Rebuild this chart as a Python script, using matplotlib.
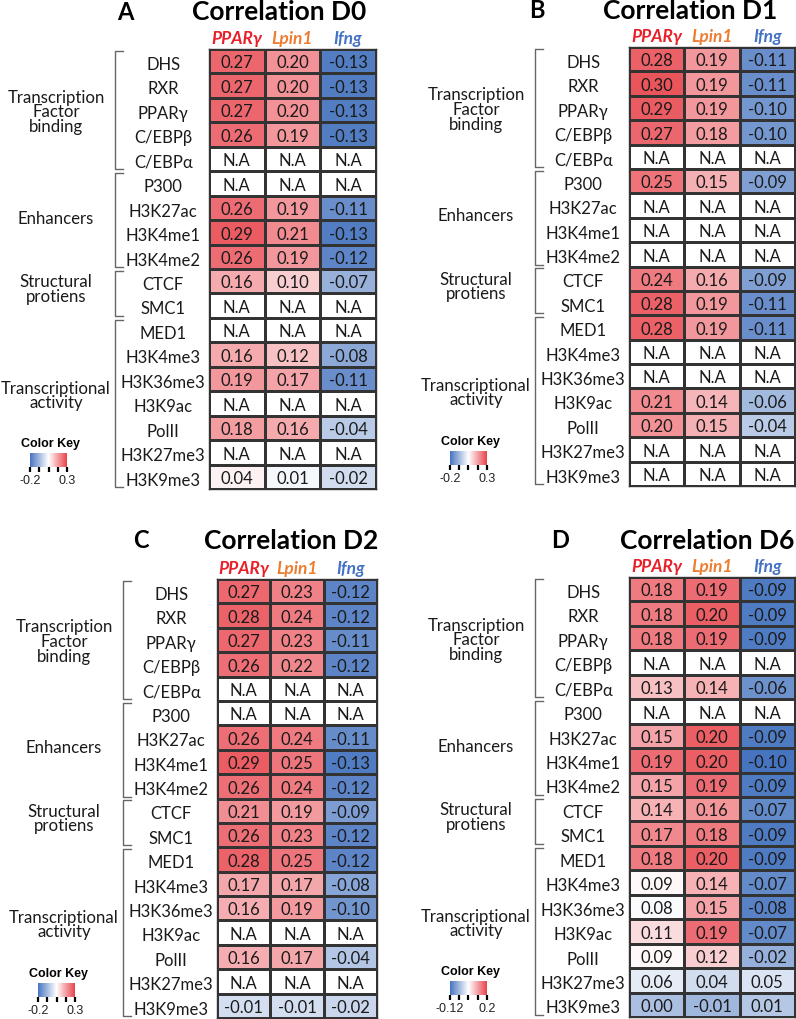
import numpy as np
import matplotlib
matplotlib.use('Agg')
import matplotlib.pyplot as plt
from matplotlib import transforms
from matplotlib.colors import LinearSegmentedColormap, TwoSlopeNorm, Normalize
from matplotlib.cm import ScalarMappable

plt.rcParams['font.family'] = ['Lato', 'DejaVu Sans']

# data
na = np.nan
rows = ['DHS', 'RXR', 'PPARγ', 'C/EBPβ', 'C/EBPα', 'P300', 'H3K27ac', 'H3K4me1', 'H3K4me2',
        'CTCF', 'SMC1', 'MED1', 'H3K4me3', 'H3K36me3', 'H3K9ac', 'PolII', 'H3K27me3', 'H3K9me3']
genes = ['PPARγ', 'Lpin1', 'Ifng']

d0_ppar = [0.27, 0.27, 0.27, 0.26, na, na, 0.26, 0.29, 0.26, 0.16, na, na, 0.16, 0.19, na, 0.18, na, 0.04]
d0_lpin = [0.20, 0.20, 0.20, 0.19, na, na, 0.19, 0.21, 0.19, 0.10, na, na, 0.12, 0.17, na, 0.16, na, 0.01]
d0_ifng = [-0.13, -0.13, -0.13, -0.13, na, na, -0.11, -0.13, -0.12, -0.07, na, na, -0.08, -0.11, na, -0.04, na, -0.02]

d1_ppar = [0.28, 0.30, 0.29, 0.27, na, 0.25, na, na, na, 0.24, 0.28, 0.28, na, na, 0.21, 0.20, na, na]
d1_lpin = [0.19, 0.19, 0.19, 0.18, na, 0.15, na, na, na, 0.16, 0.19, 0.19, na, na, 0.14, 0.15, na, na]
d1_ifng = [-0.11, -0.11, -0.10, -0.10, na, -0.09, na, na, na, -0.09, -0.11, -0.11, na, na, -0.06, -0.04, na, na]

d2_ppar = [0.27, 0.28, 0.27, 0.26, na, na, 0.26, 0.29, 0.26, 0.21, 0.26, 0.28, 0.17, 0.16, na, 0.16, na, -0.01]
d2_lpin = [0.23, 0.24, 0.23, 0.22, na, na, 0.24, 0.25, 0.24, 0.19, 0.23, 0.25, 0.17, 0.19, na, 0.17, na, -0.01]
d2_ifng = [-0.12, -0.12, -0.11, -0.12, na, na, -0.11, -0.13, -0.12, -0.09, -0.12, -0.12, -0.08, -0.10, na, -0.04, na, -0.02]

d6_ppar = [0.18, 0.18, 0.18, na, 0.13, na, 0.15, 0.19, 0.15, 0.14, 0.17, 0.18, 0.09, 0.08, 0.11, 0.09, 0.06, 0.00]
d6_lpin = [0.19, 0.20, 0.19, na, 0.14, na, 0.20, 0.20, 0.19, 0.16, 0.18, 0.20, 0.14, 0.15, 0.19, 0.12, 0.04, -0.01]
d6_ifng = [-0.09, -0.09, -0.09, na, -0.06, na, -0.09, -0.10, -0.09, -0.07, -0.09, -0.09, -0.07, -0.08, -0.07, -0.02, 0.05, 0.01]

panel_letters = ['A', 'B', 'C', 'D']
panel_titles = ['Correlation D0', 'Correlation D1', 'Correlation D2', 'Correlation D6']
panel_data = [(d0_ppar, d0_lpin, d0_ifng), (d1_ppar, d1_lpin, d1_ifng),
              (d2_ppar, d2_lpin, d2_ifng), (d6_ppar, d6_lpin, d6_ifng)]
key_range = [(-0.2, 0.3), (-0.2, 0.3), (-0.2, 0.3), (-0.12, 0.2)]
key_labels = [('-0.2', '0.3'), ('-0.2', '0.3'), ('-0.2', '0.3'), ('-0.12', '0.2')]

group_labels = ['Transcription\nFactor\nbinding', 'Enhancers', 'Structural\nprotiens', 'Transcriptional\nactivity']
group_rows = [(0, 4), (5, 8), (9, 10), (11, 17)]
group_label_y = [2.55, 6.9, 9.8, 14.15]

# colour scaling per panel (vmin, centre, vmax)
norms = [(-0.14, 0.02, 0.33), (-0.14, 0.02, 0.33), (-0.14, 0.03, 0.33), (-0.10, 0.085, 0.22)]
gene_colors = ['#e8202a', '#ed7d31', '#4472c4']

cmap = LinearSegmentedColormap.from_list('key', ['#4674bf', '#ffffff', '#e8434b'])
cmap.set_bad('white')

W, H = 796, 1020
# grid boxes in pixels: left, top, right, bottom
boxes = [(209, 50, 376, 490), (629, 48, 795, 487), (217, 580, 377, 1019), (629, 578, 795, 1018)]
letter_pos = [(125, 12), (537, 11), (141, 541), (560, 541)]
title_pos = [(279, 12), (690, 11), (291, 541), (707, 541)]

fig = plt.figure(figsize=(W / 100, H / 100), dpi=100)

for k in range(4):
    l, t, r, b = boxes[k]
    aw = r - l
    ax = fig.add_axes([l / W, 1 - b / H, aw / W, (b - t) / H])
    vals = np.array(panel_data[k]).T
    vmin, vc, vmax = norms[k]
    norm = TwoSlopeNorm(vcenter=vc, vmin=vmin, vmax=vmax)
    ax.pcolormesh(np.ma.masked_invalid(vals), cmap=cmap, norm=norm,
                  edgecolors='#333333', linewidth=1.0)
    ax.set_xlim(0, 3)
    ax.set_ylim(len(rows), 0)
    for i in range(len(rows)):
        for j in range(3):
            v = vals[i, j]
            s = 'N.A' if np.isnan(v) else f'{v:.2f}'
            ax.text(j + 0.5, i + 0.55, s, ha='center', va='center', fontsize=12, color='#1a1a1a')
    for sp in ax.spines.values():
        sp.set_color('#333333')
        sp.set_linewidth(1.0)

    # row labels
    ax.set_yticks(np.arange(len(rows)) + 0.55)
    ax.set_yticklabels(rows, ha='center', fontsize=12, color='#1a1a1a')
    ax.tick_params(axis='y', length=0, pad=33)

    # column headers
    ax.xaxis.tick_top()
    ax.set_xticks(np.arange(3) + 0.5)
    ax.set_xticklabels(genes, fontsize=12.5, fontweight='bold', fontstyle='italic')
    ax.tick_params(axis='x', length=0, pad=2)
    for lab, c in zip(ax.get_xticklabels(), gene_colors):
        lab.set_color(c)

    # brackets and group labels
    blend = transforms.blended_transform_factory(ax.transAxes, ax.transData)
    bx = -94 / aw
    tx = bx + 8 / aw
    for (r0, r1), glab, gy in zip(group_rows, group_labels, group_label_y):
        y0 = r0 + 0.08
        y1 = r1 + 1 - 0.08
        ax.plot([tx, bx, bx, tx], [y0, y0, y1, y1], color='#666666', lw=1.0,
                transform=blend, clip_on=False)
        ax.text(-153 / aw, gy, glab, transform=blend, ha='center', va='center',
                fontsize=12.1, linespacing=0.9, color='#1a1a1a')

    # titles
    lx, ly = letter_pos[k]
    fig.text(lx / W, 1 - ly / H, panel_letters[k], ha='center', va='center',
             fontsize=17, fontweight='bold')
    tx_, ty_ = title_pos[k]
    fig.text(tx_ / W, 1 - ty_ / H, panel_titles[k], ha='center', va='center',
             fontsize=19, fontweight='bold')

    # colour key
    kl, kt = l - 179, t + 404
    cax = fig.add_axes([kl / W, 1 - (kt + 14) / H, 37 / W, 14 / H])
    lo, hi = key_range[k]
    cb = fig.colorbar(ScalarMappable(norm=Normalize(lo, hi), cmap=cmap), cax=cax,
                      orientation='horizontal')
    cb.outline.set_visible(False)
    cb.set_ticks(np.linspace(lo, hi, 5))
    cb.set_ticklabels([key_labels[k][0], '', '', '', key_labels[k][1]])
    cax.tick_params(axis='x', length=3.5, width=1.6, pad=1.5, labelsize=9,
                    labelcolor='#222222')
    for lab in cax.get_xticklabels():
        lab.set_family(['Liberation Sans', 'DejaVu Sans'])
    cax.text(0.55, 1.3, 'Color Key', transform=cax.transAxes, ha='center', va='bottom',
             fontsize=9, fontweight='bold', family=['Liberation Sans', 'DejaVu Sans'])

fig.savefig('out.png', dpi=100)
